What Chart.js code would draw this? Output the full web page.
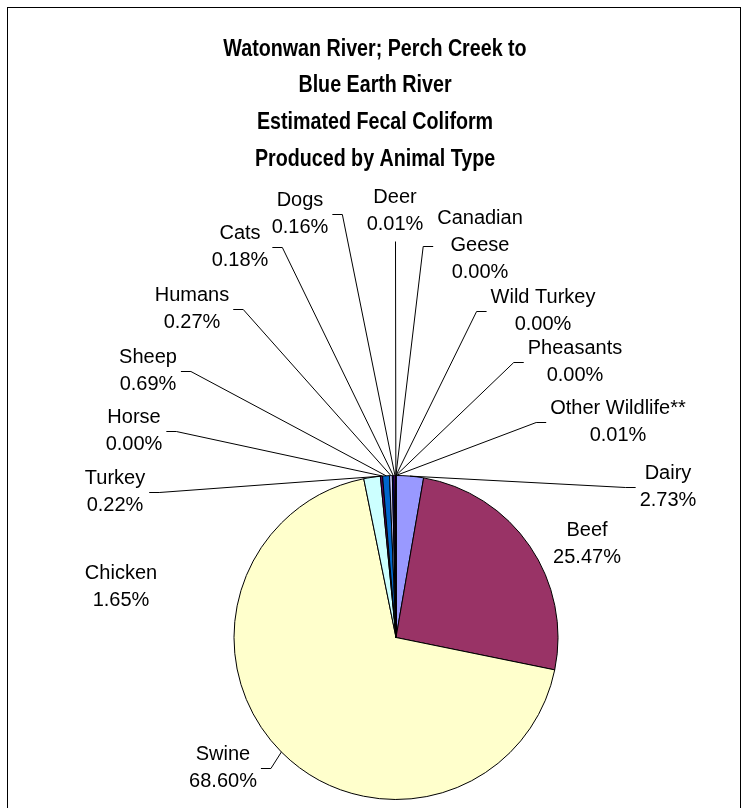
<!DOCTYPE html>
<html>
<head>
<meta charset="utf-8">
<script src="https://cdn.jsdelivr.net/npm/chart.js@4"></script>
<style>
  html,body{margin:0;padding:0;background:#fff;}
  #wrap{width:749px;height:808px;}
</style>
</head>
<body>
<div id="wrap"><canvas id="pie-chart" width="749" height="808"></canvas></div>
<script>
/* data */
var animals = ['Dairy','Beef','Swine','Chicken','Turkey','Horse','Sheep','Humans','Cats','Dogs','Deer','Canadian Geese','Wild Turkey','Pheasants','Other Wildlife**'];
var shares  = [2.73,25.47,68.60,1.65,0.22,0.00,0.69,0.27,0.18,0.16,0.01,0.00,0.00,0.00,0.01];
var sliceColors = ['#9999FF','#993366','#FFFFCC','#CCFFFF','#660066','#FF8080','#0066CC','#CCCCFF','#000080','#FF00FF','#FFFF00','#00FFFF','#800080','#800000','#008080'];
var titleLines = ['Watonwan River; Perch Creek to','Blue Earth River','Estimated Fecal Coliform','Produced by Animal Type'];

/* label layout: offset of first text line from pie centre, leader on/off */
var labelOffsets = [[272,-164],[191,-107],[-173,117],[-275,-64],[-281,-159],[-262,-220],[-248,-280],[-204,-342],[-156,-404],[-96,-437],[-1,-440],[84,-419],[147,-340],[179,-289],[222,-229]];
var hasLeader = [true,false,true,false,true,true,true,true,true,true,true,true,true,true,true];
var LINE = 27;

function labelText(i){
  var name = animals[i] === 'Canadian Geese' ? ['Canadian','Geese'] : [animals[i]];
  return name.concat([shares[i].toFixed(2)+'%']);
}

var framePlugin = {
  id:'frame',
  beforeDraw:function(chart){
    var ctx = chart.ctx;
    ctx.save();
    ctx.fillStyle = '#fff';
    ctx.fillRect(0,0,chart.width,chart.height);
    ctx.strokeStyle = '#000';
    ctx.lineWidth = 1;
    ctx.strokeRect(7.5,7.5,733,830);
    ctx.restore();
  },
  afterDraw:function(chart){
    var ctx = chart.ctx;
    ctx.save();
    // title (narrowed bold face, like the original)
    ctx.fillStyle = '#000';
    ctx.font = 'bold 24px "Liberation Sans", Arial, sans-serif';
    ctx.textAlign = 'center';
    ctx.textBaseline = 'middle';
    ctx.save();
    ctx.translate(375, 0);
    ctx.scale(0.82, 1);
    titleLines.forEach(function(t,k){ ctx.fillText(t, 0, 49 + k*36.7); });
    ctx.restore();

    // data labels + leader lines
    ctx.font = '20px "Liberation Sans", Arial, sans-serif';
    ctx.strokeStyle = '#000';
    ctx.lineWidth = 1;
    var meta = chart.getDatasetMeta(0);
    meta.data.forEach(function(arc,i){
      var p = arc.getProps(['x','y','startAngle','endAngle','outerRadius'], true);
      var lines = labelText(i);
      var lx = p.x + labelOffsets[i][0], ly = p.y + labelOffsets[i][1];
      var w = 0;
      lines.forEach(function(t,k){
        ctx.fillText(t, lx, ly + k*LINE);
        w = Math.max(w, ctx.measureText(t).width);
      });
      if(!hasLeader[i]) return;
      var mid = (p.startAngle + p.endAngle)/2;
      var ax = p.x + Math.cos(mid)*p.outerRadius;
      var ay = p.y + Math.sin(mid)*p.outerRadius;
      var my = ly + (lines.length-1)*LINE/2;
      ctx.beginPath();
      if(Math.abs(lx - ax) < w/2){
        ctx.moveTo(Math.round(lx)+0.5, ly + (lines.length-1)*LINE + 17);
        ctx.lineTo(ax, ay);
      } else {
        var side = lx < ax ? 1 : -1;
        var sx = lx + side*(w/2 + 4);
        ctx.moveTo(sx, Math.round(my)+0.5);
        ctx.lineTo(sx + side*10, Math.round(my)+0.5);
        ctx.lineTo(ax, ay);
      }
      ctx.stroke();
    });
    ctx.restore();
  }
};

var chartEl = document.getElementById('pie-chart');
new Chart(chartEl, {
  type:'pie',
  data:{
    labels:animals,
    datasets:[{
      data:shares,
      backgroundColor:sliceColors,
      borderColor:'#000',
      borderWidth:1
    }]
  },
  options:{
    responsive:false,
    animation:false,
    devicePixelRatio:1,
    radius:162,
    layout:{padding:{left:234,right:191,top:475,bottom:8}},
    plugins:{
      legend:{display:false},
      title:{display:false},
      tooltip:{enabled:false}
    }
  },
  plugins:[framePlugin]
});
</script>
</body>
</html>
